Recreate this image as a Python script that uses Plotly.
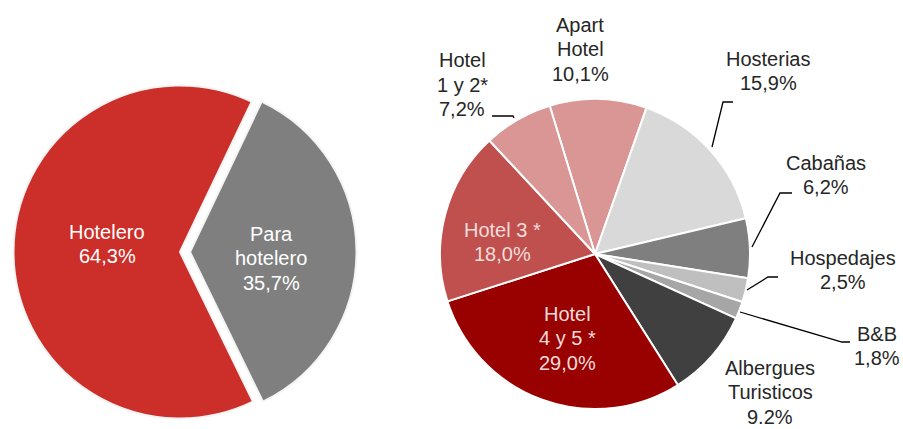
import plotly.graph_objects as go

W, H = 903, 429

# ---- data ----
left_labels = ["Para hotelero", "Hotelero"]
left_text = ["Para<br>hotelero", "Hotelero"]
left_values = [35.7, 64.3]
left_colors = ["#7F7F7F", "#CC2E2A"]

right_labels = ["Apart Hotel", "Hosterias", "Cabañas", "Hospedajes", "B&B",
                "Albergues Turisticos", "Hotel 4 y 5 *", "Hotel 3 *", "Hotel 1 y 2*"]
right_text = ["Apart<br>Hotel", "Hosterias", "Cabañas", "Hospedajes", "B&B",
              "Albergues<br>Turisticos", "Hotel<br>4 y 5 *", "Hotel 3 *", "Hotel<br>1 y 2*"]
right_values = [10.1, 15.9, 6.2, 2.5, 1.8, 9.2, 29.0, 18.0, 7.2]
right_value_text = ["10,1%", "15,9%", "6,2%", "2,5%", "1,8%", "9.2%", "29,0%", "18,0%", "7,2%"]
right_colors = ["#D99694", "#D9D9D9", "#7F7F7F", "#BFBFBF", "#A6A6A6",
                "#404040", "#990000", "#C0504D", "#D99694"]

# ---- layout helpers (pixel -> paper) ----
def px(x):
    return min(max(x / W, 0), 1)

def py(y):
    return min(max(1 - y / H, 0), 1)

fig = go.Figure()

# left pie: centre (180,252), r 166.5, pull .06
lr, lpull = 166.5, 0.06
lcx, lcy = 180, 252
half = lr * (1 + lpull)
fig.add_trace(go.Pie(
    labels=left_labels, values=left_values, sort=False, direction="clockwise",
    rotation=25.5, pull=[lpull, 0],
    marker=dict(colors=left_colors, line=dict(color="#F4F4F4", width=2)),
    textinfo="none", hoverinfo="label+percent", showlegend=False,
    domain=dict(x=[px(lcx - half), px(lcx + half)], y=[py(lcy + half), py(lcy - half)]),
))

# right pie: centre (595,254), r 155
rr, rcx, rcy = 155, 595, 254
fig.add_trace(go.Pie(
    labels=right_labels, values=right_values, sort=False, direction="clockwise",
    rotation=-17, marker=dict(colors=right_colors, line=dict(color="white", width=2)),
    textinfo="none", hoverinfo="label+percent", showlegend=False,
    domain=dict(x=[px(rcx - rr), px(rcx + rr)], y=[py(rcy + rr), py(rcy - rr)]),
))

FONT = "Liberation Sans, Arial, sans-serif"
FS = 20
LINE = 24.5


def add_label(lines, x, y, color):
    n = len(lines)
    for i, ln in enumerate(lines):
        yy = y + (i - (n - 1) / 2) * LINE
        fig.add_annotation(x=px(x), y=py(yy), xref="paper", yref="paper", showarrow=False,
                           xanchor="center", yanchor="middle", text=ln, borderpad=0,
                           font=dict(family=FONT, size=FS, color=color))


# label anchor positions (pixels) - layout only
left_pos = [(271, 258), (107, 244)]
for t, v, (x, y) in zip(left_text, left_values, left_pos):
    add_label(t.split("<br>") + [str(v).replace(".", ",") + "%"], x, y, "white")

right_pos = [(580, 49), (768, 71), (826, 175), (843, 270), (877, 346),
             (770, 392), (567, 338), (502, 242), (462, 85)]
right_fcol = ["#262626"] * 6 + ["#F2DCDB", "#F2DCDB", "#262626"]
for t, vt, (x, y), c in zip(right_text, right_value_text, right_pos, right_fcol):
    add_label(t.split("<br>") + [vt], x, y, c)

# leader lines (pixels)
leaders = [
    [(492, 116), (513, 116), (514, 118)],
    [(733, 102), (723, 102), (712, 147)],
    [(792, 193), (780, 193), (752, 247)],
    [(778, 277), (768, 277), (747, 290)],
    [(850, 342), (842, 342), (740, 312)],
]
for pts in leaders:
    path = "M " + " L ".join(f"{px(x)},{py(y)}" for x, y in pts)
    fig.add_shape(type="path", path=path, xref="paper", yref="paper",
                  line=dict(color="black", width=1.3))

fig.update_layout(width=W, height=H, margin=dict(l=0, r=0, t=0, b=0),
                  paper_bgcolor="white", plot_bgcolor="white")

fig.write_html("out.html", config={"displayModeBar": False},
               post_script="document.body.style.margin='0';")
